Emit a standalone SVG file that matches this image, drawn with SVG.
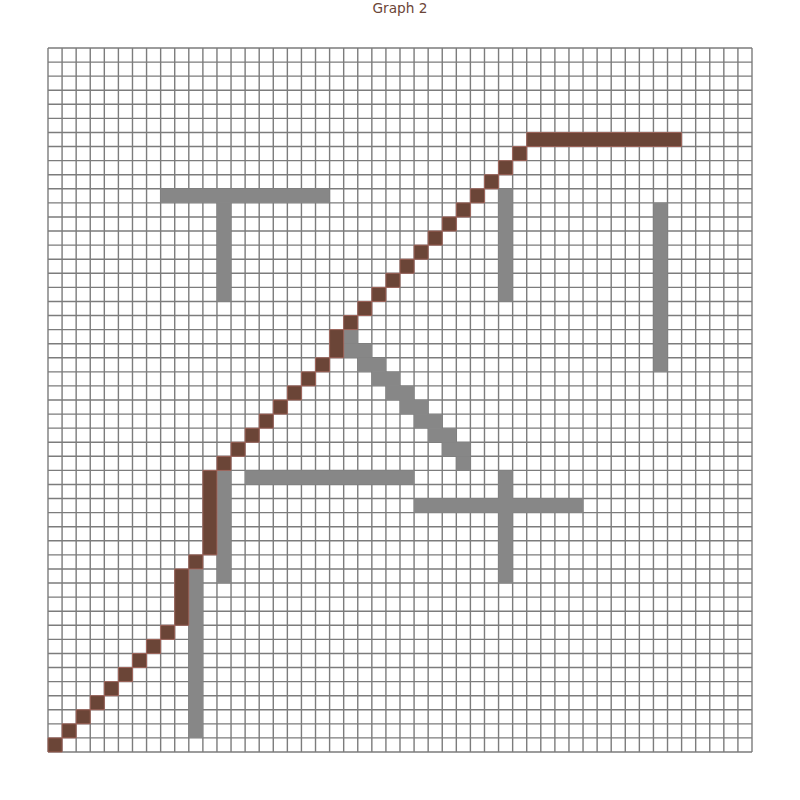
<svg xmlns="http://www.w3.org/2000/svg" width="800" height="800" viewBox="0 0 800 800">
<style>
.grid{fill:none;stroke:#7c7c7c;stroke-width:1.4;vector-effect:non-scaling-stroke}
.wall{fill:#878787}
.path{fill:#6b4537;stroke:#b0675c;stroke-width:0.7;vector-effect:non-scaling-stroke}
.title{font-family:"DejaVu Sans",sans-serif;font-size:13.7px;fill:#6b4537;text-anchor:middle}
</style>
<rect width="800" height="800" fill="#ffffff"/>
<text class="title" x="400" y="12.5">Graph 2</text>
<g transform="translate(48,48) scale(14.08)">
<g id="grid">
<path class="grid" d="M0 0V50M1 0V50M2 0V50M3 0V50M4 0V50M5 0V50M6 0V50M7 0V50M8 0V50M9 0V50M10 0V50M11 0V50M12 0V50M13 0V50M14 0V50M15 0V50M16 0V50M17 0V50M18 0V50M19 0V50M20 0V50M21 0V50M22 0V50M23 0V50M24 0V50M25 0V50M26 0V50M27 0V50M28 0V50M29 0V50M30 0V50M31 0V50M32 0V50M33 0V50M34 0V50M35 0V50M36 0V50M37 0V50M38 0V50M39 0V50M40 0V50M41 0V50M42 0V50M43 0V50M44 0V50M45 0V50M46 0V50M47 0V50M48 0V50M49 0V50M50 0V50M0 0H50M0 1H50M0 2H50M0 3H50M0 4H50M0 5H50M0 6H50M0 7H50M0 8H50M0 9H50M0 10H50M0 11H50M0 12H50M0 13H50M0 14H50M0 15H50M0 16H50M0 17H50M0 18H50M0 19H50M0 20H50M0 21H50M0 22H50M0 23H50M0 24H50M0 25H50M0 26H50M0 27H50M0 28H50M0 29H50M0 30H50M0 31H50M0 32H50M0 33H50M0 34H50M0 35H50M0 36H50M0 37H50M0 38H50M0 39H50M0 40H50M0 41H50M0 42H50M0 43H50M0 44H50M0 45H50M0 46H50M0 47H50M0 48H50M0 49H50M0 50H50"/>
</g>
<g id="obstacles" class="wall">
<rect x="8" y="10" width="12" height="1"/>
<rect x="12" y="11" width="1" height="7"/>
<rect x="32" y="10" width="1" height="8"/>
<rect x="43" y="11" width="1" height="12"/>
<rect x="20" y="20" width="2" height="1"/>
<rect x="21" y="21" width="2" height="1"/>
<rect x="22" y="22" width="2" height="1"/>
<rect x="23" y="23" width="2" height="1"/>
<rect x="24" y="24" width="2" height="1"/>
<rect x="25" y="25" width="2" height="1"/>
<rect x="26" y="26" width="2" height="1"/>
<rect x="27" y="27" width="2" height="1"/>
<rect x="28" y="28" width="2" height="1"/>
<rect x="29" y="29" width="1" height="1"/>
<rect x="14" y="30" width="12" height="1"/>
<rect x="12" y="30" width="1" height="8"/>
<rect x="26" y="32" width="12" height="1"/>
<rect x="32" y="30" width="1" height="8"/>
<rect x="10" y="37" width="1" height="12"/>
</g>
<g id="route">
<rect class="path" x="0" y="49" width="1" height="1"/>
<rect class="path" x="1" y="48" width="1" height="1"/>
<rect class="path" x="2" y="47" width="1" height="1"/>
<rect class="path" x="3" y="46" width="1" height="1"/>
<rect class="path" x="4" y="45" width="1" height="1"/>
<rect class="path" x="5" y="44" width="1" height="1"/>
<rect class="path" x="6" y="43" width="1" height="1"/>
<rect class="path" x="7" y="42" width="1" height="1"/>
<rect class="path" x="8" y="41" width="1" height="1"/>
<rect class="path" x="9" y="37" width="1" height="4"/>
<rect class="path" x="10" y="36" width="1" height="1"/>
<rect class="path" x="11" y="30" width="1" height="6"/>
<rect class="path" x="12" y="29" width="1" height="1"/>
<rect class="path" x="13" y="28" width="1" height="1"/>
<rect class="path" x="14" y="27" width="1" height="1"/>
<rect class="path" x="15" y="26" width="1" height="1"/>
<rect class="path" x="16" y="25" width="1" height="1"/>
<rect class="path" x="17" y="24" width="1" height="1"/>
<rect class="path" x="18" y="23" width="1" height="1"/>
<rect class="path" x="19" y="22" width="1" height="1"/>
<rect class="path" x="20" y="20" width="1" height="2"/>
<rect class="path" x="21" y="19" width="1" height="1"/>
<rect class="path" x="22" y="18" width="1" height="1"/>
<rect class="path" x="23" y="17" width="1" height="1"/>
<rect class="path" x="24" y="16" width="1" height="1"/>
<rect class="path" x="25" y="15" width="1" height="1"/>
<rect class="path" x="26" y="14" width="1" height="1"/>
<rect class="path" x="27" y="13" width="1" height="1"/>
<rect class="path" x="28" y="12" width="1" height="1"/>
<rect class="path" x="29" y="11" width="1" height="1"/>
<rect class="path" x="30" y="10" width="1" height="1"/>
<rect class="path" x="31" y="9" width="1" height="1"/>
<rect class="path" x="32" y="8" width="1" height="1"/>
<rect class="path" x="33" y="7" width="1" height="1"/>
<rect class="path" x="34" y="6" width="11" height="1"/>
</g>
</g>
</svg>
